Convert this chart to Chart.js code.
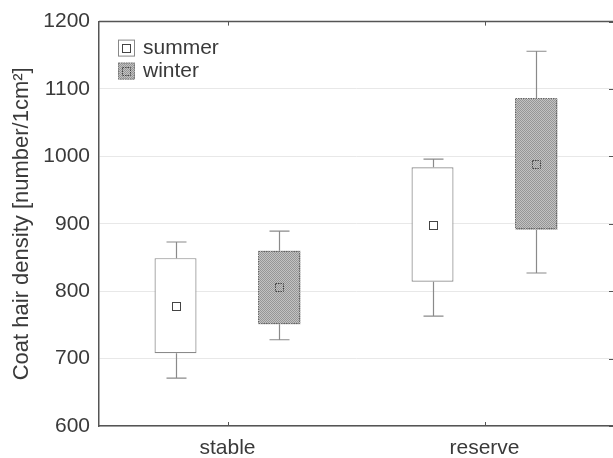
<!DOCTYPE html>
<html><head><meta charset="utf-8">
<script src="https://cdn.jsdelivr.net/npm/chart.js@4"></script>
<style>html,body{margin:0;padding:0;background:#fff;overflow:hidden}#wrap{position:relative;width:613px;height:458px}</style>
</head><body><div id="wrap"><canvas id="c"></canvas></div>
<script>
const categories = ['stable', 'reserve'];
const seriesNames = ['summer', 'winter'];
const summerMean = [778, 898];
const summerBoxLow = [708, 814];
const summerBoxHigh = [849, 984];
const summerWhiskerLow = [671, 763];
const summerWhiskerHigh = [873, 996];
const winterMean = [805, 988];
const winterBoxLow = [751, 891];
const winterBoxHigh = [860, 1086];
const winterWhiskerLow = [728, 827];
const winterWhiskerHigh = [889, 1156];
const yMin = 600, yMax = 1200, yStep = 100;
const yTitle = 'Coat hair density [number/1cm\u00B2]';

function makePattern() {
  const p = document.createElement('canvas'); p.width = 2; p.height = 2;
  const g = p.getContext('2d');
  g.fillStyle = '#c2c2c2'; g.fillRect(0, 0, 2, 2);
  g.fillStyle = '#969696'; g.fillRect(0, 0, 1, 1); g.fillRect(1, 1, 1, 1);
  return g.createPattern(p, 'repeat');
}
const winterFill = makePattern();
const FONT = "'Liberation Sans', Arial, sans-serif";
const TXT = '#3a3a3a';
const AXIS = '#555';
const WHISK = '#8a8a8a';

function meanMarker(ctx, x, y, winter) {
  ctx.save();
  const s = 9;
  ctx.fillStyle = winter ? winterFill : '#fff';
  ctx.fillRect(x - s / 2, y - s / 2, s, s);
  ctx.strokeStyle = '#444';
  ctx.lineWidth = 1;
  if (winter) ctx.setLineDash([1.5, 1]);
  ctx.strokeRect(Math.round(x - s / 2) + 0.5, Math.round(y - s / 2) + 0.5, s - 1, s - 1);
  ctx.restore();
}

const boxPlugin = {
  id: 'boxPlugin',
  afterDatasetsDraw(chart) {
    const ctx = chart.ctx, y = chart.scales.y;
    chart.data.datasets.forEach((ds, di) => {
      const meta = chart.getDatasetMeta(di);
      meta.data.forEach((bar, i) => {
        const cx = Math.round(bar.x) + 0.5;
        const pHi = y.getPixelForValue(ds.boxHigh[i]);
        const pLo = y.getPixelForValue(ds.boxLow[i]);
        const wHi = y.getPixelForValue(ds.whiskerHigh[i]);
        const wLo = y.getPixelForValue(ds.whiskerLow[i]);
        ctx.save();
        ctx.strokeStyle = WHISK; ctx.lineWidth = 1.2;
        ctx.beginPath();
        ctx.moveTo(cx, pHi); ctx.lineTo(cx, wHi);
        ctx.moveTo(cx - 10, wHi); ctx.lineTo(cx + 10, wHi);
        ctx.moveTo(cx, pLo); ctx.lineTo(cx, wLo);
        ctx.moveTo(cx - 10, wLo); ctx.lineTo(cx + 10, wLo);
        ctx.stroke();
        if (di === 1) {
          ctx.strokeStyle = '#666'; ctx.lineWidth = 1; ctx.setLineDash([1.5, 1]);
          const hw = bar.width / 2;
          ctx.strokeRect(Math.round(bar.x - hw) + 0.5, Math.round(pHi) + 0.5, Math.round(bar.width) - 1, Math.round(pLo - pHi) - 1);
        }
        ctx.restore();
        meanMarker(ctx, cx, y.getPixelForValue(ds.mean[i]), di === 1);
      });
    });
  },
  afterDraw(chart) {
    const ctx = chart.ctx, a = chart.chartArea, x = chart.scales.x, y = chart.scales.y;
    ctx.save();
    ctx.strokeStyle = AXIS; ctx.lineWidth = 1.5;
    ctx.beginPath();
    ctx.moveTo(a.left, a.top); ctx.lineTo(a.right, a.top);
    ctx.stroke();
    ctx.lineWidth = 1;
    ctx.beginPath();
    categories.forEach((c, i) => {
      const px = Math.round(x.getPixelForValue(i)) + 0.5;
      ctx.moveTo(px, a.top); ctx.lineTo(px, a.top + 4);
      ctx.moveTo(px, a.bottom); ctx.lineTo(px, a.bottom - 4);
    });
    for (let v = yMin; v <= yMax; v += yStep) {
      const py = Math.round(y.getPixelForValue(v)) + 0.5;
      ctx.moveTo(a.right, py); ctx.lineTo(a.right - 4, py);
    }
    ctx.stroke();
    // legend
    const lx = a.left + 19, ly = a.top + 18;
    seriesNames.forEach((name, i) => {
      const by = ly + i * 23;
      ctx.save();
      if (i === 0) {
        ctx.fillStyle = '#fff'; ctx.fillRect(lx, by, 17, 17);
        ctx.strokeStyle = '#888'; ctx.lineWidth = 1;
        ctx.strokeRect(lx + 0.5, by + 0.5, 16, 16);
      } else {
        ctx.fillStyle = winterFill; ctx.fillRect(lx, by, 17, 17);
        ctx.strokeStyle = '#777'; ctx.lineWidth = 1; ctx.setLineDash([1.5, 1]);
        ctx.strokeRect(lx + 0.5, by + 0.5, 16, 16);
      }
      ctx.restore();
      meanMarker(ctx, lx + 8.5, by + 8.5, i === 1);
      ctx.fillStyle = TXT;
      ctx.font = '21px ' + FONT;
      ctx.textBaseline = 'middle';
      ctx.textAlign = 'left';
      ctx.fillText(name, lx + 25, by + 9);
    });
    ctx.restore();
  }
};

new Chart(document.getElementById('c'), {
  type: 'bar',
  data: {
    labels: categories,
    datasets: [
      {
        label: seriesNames[0],
        data: categories.map((c, i) => [summerBoxLow[i], summerBoxHigh[i]]),
        boxLow: summerBoxLow, boxHigh: summerBoxHigh,
        whiskerLow: summerWhiskerLow, whiskerHigh: summerWhiskerHigh, mean: summerMean,
        backgroundColor: '#ffffff', borderColor: '#8a8a8a', borderWidth: 1.2, borderSkipped: false
      },
      {
        label: seriesNames[1],
        data: categories.map((c, i) => [winterBoxLow[i], winterBoxHigh[i]]),
        boxLow: winterBoxLow, boxHigh: winterBoxHigh,
        whiskerLow: winterWhiskerLow, whiskerHigh: winterWhiskerHigh, mean: winterMean,
        backgroundColor: winterFill, borderColor: 'rgba(0,0,0,0)', borderWidth: 0, borderSkipped: false
      }
    ]
  },
  options: {
    responsive: true,
    maintainAspectRatio: false,
    animation: false,
    events: [],
    categoryPercentage: 0.809,
    barPercentage: 0.404,
    layout: { padding: { top: 7, right: 0, bottom: 0, left: 0 } },
    plugins: { legend: { display: false }, tooltip: { enabled: false } },
    scales: {
      x: {
        grid: { drawOnChartArea: false, drawTicks: false },
        border: { display: true, color: AXIS, width: 1.5 },
        ticks: { color: TXT, font: { family: FONT, size: 21 }, padding: 10 },
        afterFit(s) { s.height = 32; }
      },
      y: {
        min: yMin, max: yMax,
        grid: { color: '#e8e8e8', drawTicks: false },
        border: { display: true, color: AXIS, width: 1.5 },
        ticks: { stepSize: yStep, color: TXT, font: { family: FONT, size: 21 }, padding: 9,
                 callback: (v) => String(v) },
        title: { display: true, text: yTitle, color: TXT, font: { family: FONT, size: 22 }, padding: { top: 9, bottom: 0 } },
        afterFit(s) { s.width = 99; }
      }
    }
  },
  plugins: [boxPlugin]
});
</script>
</body></html>
